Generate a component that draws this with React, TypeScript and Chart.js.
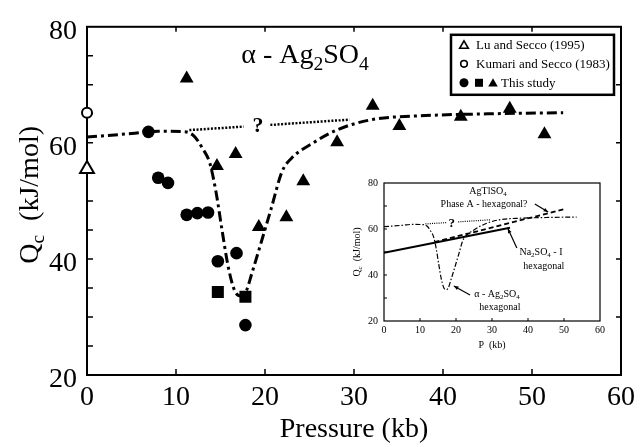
import React, { useEffect, useRef } from "react";
import { Chart, registerables } from "chart.js";
Chart.register(...registerables);

const SERIF = "'Liberation Serif', 'Times New Roman', serif";

// ---------- main chart data ----------
const luSeccoP = [0];
const luSeccoQ = [55.5];
const kumariP = [0];
const kumariQ = [65.2];
const circleP = [6.9, 8.0, 9.1, 11.2, 12.4, 13.6, 14.7, 16.8, 17.8];
const circleQ = [61.9, 54.0, 53.1, 47.6, 47.9, 48.0, 39.6, 41.0, 28.6];
const squareP = [14.7, 17.8];
const squareQ = [34.3, 33.5];
const triangleP = [11.2, 14.6, 16.7, 19.3, 22.4, 24.3, 28.1, 32.1, 35.1, 42.0, 47.5, 51.4];
const triangleQ = [71.1, 56.0, 58.1, 45.5, 47.2, 53.4, 60.1, 66.4, 62.9, 64.5, 65.9, 61.5];
const fitP = [0, 5, 8, 11, 12, 13, 13.8, 14.5, 15.2, 15.9, 16.6, 17.3, 17.9, 18.5, 19.6, 20.7, 21.9, 23, 25.2, 28.2, 32, 38, 45, 53.5];
const fitQ = [61, 61.6, 62, 61.9, 61.2, 59, 56.5, 51.5, 44.7, 38.4, 34.5, 33.6, 34.5, 37.4, 43, 48.7, 55, 57.4, 59.8, 62.3, 64, 64.7, 65, 65.2];
const dottedP = [11.5, 17.6, 19.2, 20.6, 29.5];
const dottedQ = [62.2, 62.8, null, 63.1, 64.0];
const xTicks = [0, 10, 20, 30, 40, 50, 60];
const yTicks = [20, 40, 60, 80];
const yTickMarks = [25, 30, 35, 40, 45, 50, 55, 60, 65, 70, 75];
const xTickMarks = [10, 20, 30, 40, 50];

// ---------- inset data ----------
const na2so4P = [0, 35];
const na2so4Q = [49.7, 60.5];
const agtlP = [14, 50];
const agtlQ = [54.3, 68.6];
const insetXTickMarks = [10, 20, 30, 40, 50];
const insetYTickMarks = [30, 40, 50, 60, 70];

type Part = { t: string; sub?: boolean };

function drawRich(ctx: CanvasRenderingContext2D, parts: Part[], x: number, y: number, size: number, align: "left" | "center", weight = "") {
  const sub = size * 0.7;
  let total = 0;
  const widths = parts.map((p) => {
    ctx.font = `${weight} ${p.sub ? sub : size}px ${SERIF}`;
    const w = ctx.measureText(p.t).width;
    total += w;
    return w;
  });
  let cx = align === "center" ? x - total / 2 : x;
  ctx.textAlign = "left";
  ctx.textBaseline = "alphabetic";
  parts.forEach((p, i) => {
    ctx.font = `${weight} ${p.sub ? sub : size}px ${SERIF}`;
    ctx.fillText(p.t, cx, p.sub ? y + size * 0.22 : y);
    cx += widths[i];
  });
}

function arrow(ctx: CanvasRenderingContext2D, x1: number, y1: number, x2: number, y2: number, head = 5) {
  ctx.beginPath();
  ctx.moveTo(x1, y1);
  ctx.lineTo(x2, y2);
  ctx.stroke();
  const a = Math.atan2(y2 - y1, x2 - x1);
  ctx.beginPath();
  ctx.moveTo(x2, y2);
  ctx.lineTo(x2 - head * Math.cos(a - 0.4), y2 - head * Math.sin(a - 0.4));
  ctx.lineTo(x2 - head * Math.cos(a + 0.4), y2 - head * Math.sin(a + 0.4));
  ctx.closePath();
  ctx.fill();
}

function tri(ctx: CanvasRenderingContext2D, x: number, y: number, r: number) {
  ctx.beginPath();
  ctx.moveTo(x, y - r);
  ctx.lineTo(x + r * 0.866, y + r * 0.5);
  ctx.lineTo(x - r * 0.866, y + r * 0.5);
  ctx.closePath();
}

const pts = (xs: number[], ys: (number | null)[]) => xs.map((x, i) => ({ x, y: ys[i] }));

const mainPlugin = {
  id: "mainDecor",
  beforeDatasetsDraw(chart: any) {
    const { ctx, chartArea: ca, scales } = chart;
    const xs = scales.x, ys = scales.y;
    ctx.save();
    ctx.strokeStyle = "#000";
    ctx.lineWidth = 2;
    ctx.strokeRect(ca.left, ca.top, ca.right - ca.left, ca.bottom - ca.top);
    ctx.lineWidth = 1.5;
    ctx.beginPath();
    for (const v of yTickMarks) {
      const py = ys.getPixelForValue(v);
      ctx.moveTo(ca.left, py);
      ctx.lineTo(ca.left + 6, py);
    }
    for (const v of [30, 40, 50, 60, 70]) {
      const py = ys.getPixelForValue(v);
      ctx.moveTo(ca.right, py);
      ctx.lineTo(ca.right - 5, py);
    }
    for (const v of xTickMarks) {
      const px = xs.getPixelForValue(v);
      ctx.moveTo(px, ca.bottom);
      ctx.lineTo(px, ca.bottom - 6);
      ctx.moveTo(px, ca.top);
      ctx.lineTo(px, ca.top + 5);
    }
    ctx.stroke();
    ctx.restore();
  },
  afterDatasetsDraw(chart: any) {
    const { ctx, chartArea: ca, scales } = chart;
    const xs = scales.x, ys = scales.y;
    ctx.save();
    ctx.fillStyle = "#000";
    // title
    drawRich(ctx, [{ t: "\u03b1 - Ag" }, { t: "2", sub: true }, { t: "SO" }, { t: "4", sub: true }], xs.getPixelForValue(24.5), ys.getPixelForValue(73.7), 28, "center");
    // question mark
    ctx.font = `bold 22px ${SERIF}`;
    ctx.textAlign = "center";
    ctx.textBaseline = "middle";
    ctx.fillText("?", xs.getPixelForValue(19.2), ys.getPixelForValue(62.9));
    // y axis title
    ctx.save();
    ctx.translate(38, (ca.top + ca.bottom) / 2 + 0 - 6);
    ctx.rotate(-Math.PI / 2);
    drawRich(ctx, [{ t: "Q" }, { t: "c", sub: true }, { t: "  (kJ/mol)" }], 0, 0, 28, "center");
    ctx.restore();
    // legend
    const bl = ca.right - 170, bt = ca.top + 8, bw = 163, bh = 60;
    ctx.fillStyle = "#fff";
    ctx.fillRect(bl, bt, bw, bh);
    ctx.strokeStyle = "#000";
    ctx.lineWidth = 2.5;
    ctx.strokeRect(bl, bt, bw, bh);
    ctx.fillStyle = "#000";
    const r1 = bt + 10, r2 = bt + 29, r3 = bt + 48;
    ctx.lineWidth = 1.6;
    tri(ctx, bl + 13, r1 + 1, 5);
    ctx.stroke();
    ctx.beginPath();
    ctx.arc(bl + 13, r2, 3.3, 0, Math.PI * 2);
    ctx.stroke();
    ctx.beginPath();
    ctx.arc(bl + 13, r3, 4.5, 0, Math.PI * 2);
    ctx.fill();
    ctx.fillRect(bl + 24, r3 - 4, 8, 8);
    tri(ctx, bl + 42, r3 + 1, 5.5);
    ctx.fill();
    ctx.font = `13px ${SERIF}`;
    ctx.textAlign = "left";
    ctx.textBaseline = "middle";
    ctx.fillText("Lu and Secco (1995)", bl + 25, r1 + 1);
    ctx.fillText("Kumari and Secco (1983)", bl + 25, r2 + 1);
    ctx.fillText("This study", bl + 50, r3 + 1);
    ctx.restore();
  },
};

const insetPlugin = {
  id: "insetDecor",
  beforeDatasetsDraw(chart: any) {
    const { ctx, chartArea: ca, scales } = chart;
    const xs = scales.x, ys = scales.y;
    ctx.save();
    ctx.fillStyle = "#fff";
    ctx.strokeStyle = "#000";
    ctx.lineWidth = 1.2;
    ctx.strokeRect(ca.left, ca.top, ca.right - ca.left, ca.bottom - ca.top);
    ctx.lineWidth = 1;
    ctx.beginPath();
    for (const v of insetYTickMarks) {
      const py = ys.getPixelForValue(v);
      ctx.moveTo(ca.left, py);
      ctx.lineTo(ca.left + 3, py);
    }
    for (const v of insetXTickMarks) {
      const px = xs.getPixelForValue(v);
      ctx.moveTo(px, ca.bottom);
      ctx.lineTo(px, ca.bottom - 3);
    }
    ctx.stroke();
    ctx.restore();
  },
  afterDatasetsDraw(chart: any) {
    const { ctx, chartArea: ca, scales } = chart;
    const xs = scales.x, ys = scales.y;
    const X = (v: number) => xs.getPixelForValue(v);
    const Y = (v: number) => ys.getPixelForValue(v);
    ctx.save();
    ctx.fillStyle = "#000";
    ctx.strokeStyle = "#000";
    ctx.lineWidth = 1.2;
    drawRich(ctx, [{ t: "AgTlSO" }, { t: "4", sub: true }], X(28.9), Y(76.5) + 3, 10, "center");
    ctx.font = `10px ${SERIF}`;
    ctx.textAlign = "center";
    ctx.textBaseline = "middle";
    ctx.fillText("Phase A - hexagonal?", X(27.8), Y(70.9));
    arrow(ctx, X(41.9), Y(70.9), X(45.6), Y(67.4), 5);
    drawRich(ctx, [{ t: "Na" }, { t: "2", sub: true }, { t: "SO" }, { t: "4", sub: true }, { t: " - I" }], X(43.6), Y(50.0) + 3, 10, "center");
    ctx.font = `10px ${SERIF}`;
    ctx.textAlign = "center";
    ctx.textBaseline = "middle";
    ctx.fillText("hexagonal", X(44.4), Y(43.9));
    arrow(ctx, X(36.9), Y(51.7), X(34.4), Y(60.2), 5);
    drawRich(ctx, [{ t: "\u03b1 - Ag" }, { t: "2", sub: true }, { t: "SO" }, { t: "4", sub: true }], X(31.4), Y(31.7) + 3, 10, "center");
    ctx.font = `10px ${SERIF}`;
    ctx.textAlign = "center";
    ctx.textBaseline = "middle";
    ctx.fillText("hexagonal", X(32.2), Y(26.1));
    arrow(ctx, X(23.9), Y(31.3), X(19.4), Y(35.2), 5);
    ctx.font = `bold 13px ${SERIF}`;
    ctx.fillText("?", X(18.8), Y(62.2));
    // y title
    ctx.save();
    ctx.translate(ca.left - 24, (ca.top + ca.bottom) / 2);
    ctx.rotate(-Math.PI / 2);
    drawRich(ctx, [{ t: "Q" }, { t: "c", sub: true }, { t: "  (kJ/mol)" }], 0, 0, 10, "center");
    ctx.restore();
    ctx.restore();
  },
};

export default function App() {
  const mainRef = useRef<HTMLCanvasElement>(null);
  const insetRef = useRef<HTMLCanvasElement>(null);

  useEffect(() => {
    const line = (data: any, dash: number[], width: number, order = 2) => ({
      data,
      showLine: true,
      pointRadius: 0,
      borderColor: "#000",
      borderWidth: width,
      borderDash: dash,
      cubicInterpolationMode: "monotone",
      spanGaps: false,
      fill: false,
      order,
    });
    const main = new Chart(mainRef.current as HTMLCanvasElement, {
      type: "scatter",
      data: {
        datasets: [
          { data: pts(luSeccoP, luSeccoQ), pointStyle: "triangle", pointRadius: 8, backgroundColor: "#fff", borderColor: "#000", borderWidth: 2, clip: false, order: 0 },
          { data: pts(kumariP, kumariQ), pointStyle: "circle", pointRadius: 5, backgroundColor: "#fff", borderColor: "#000", borderWidth: 2, clip: false, order: 0 },
          { data: pts(circleP, circleQ), pointStyle: "circle", pointRadius: 6.3, backgroundColor: "#000", borderWidth: 0, order: 0 },
          { data: pts(squareP, squareQ), pointStyle: "rect", pointRadius: 8.5, backgroundColor: "#000", borderWidth: 0, order: 0 },
          { data: pts(triangleP, triangleQ), pointStyle: "triangle", pointRadius: 8, backgroundColor: "#000", borderWidth: 0, order: 0 },
          line(pts(fitP, fitQ), [10, 4, 3, 4], 3) as any,
          line(pts(dottedP, dottedQ), [2, 1.6], 2.5) as any,
        ],
      },
      options: {
        responsive: false,
        animation: false,
        events: [],
        layout: { padding: { left: 0, top: 23, right: 16, bottom: 0 } },
        plugins: { legend: { display: false }, tooltip: { enabled: false } },
        scales: {
          x: {
            type: "linear",
            min: 0,
            max: 60,
            afterFit: (s: any) => { s.height = 72; },
            afterBuildTicks: (s: any) => { s.ticks = xTicks.map((v) => ({ value: v })); },
            grid: { display: false, drawTicks: false },
            border: { display: false },
            ticks: { color: "#000", padding: 6, font: { family: SERIF, size: 28 }, maxRotation: 0 },
            title: { display: true, text: "Pressure (kb)", color: "#000", font: { family: SERIF, size: 28 }, padding: { top: 0, bottom: 1 } },
          },
          y: {
            type: "linear",
            min: 20,
            max: 80,
            afterFit: (s: any) => { s.width = 87; },
            afterBuildTicks: (s: any) => { s.ticks = yTicks.map((v) => ({ value: v })); },
            grid: { display: false, drawTicks: false },
            border: { display: false },
            ticks: { color: "#000", padding: 10, labelOffset: 5, font: { family: SERIF, size: 28 } },
          },
        },
      },
      plugins: [mainPlugin],
    } as any);

    const inset = new Chart(insetRef.current as HTMLCanvasElement, {
      type: "scatter",
      data: {
        datasets: [
          line(pts(na2so4P, na2so4Q), [], 2, 1) as any,
          line(pts(agtlP, agtlQ), [5, 3], 1.8, 1) as any,
          line(pts(fitP, fitQ), [5, 2, 1.5, 2], 1.2, 2) as any,
          line(pts(dottedP, dottedQ), [1, 1.2], 1.2, 2) as any,
        ],
      },
      options: {
        responsive: false,
        animation: false,
        events: [],
        layout: { padding: { left: 0, top: 13, right: 20, bottom: 0 } },
        plugins: { legend: { display: false }, tooltip: { enabled: false } },
        scales: {
          x: {
            type: "linear",
            min: 0,
            max: 60,
            afterFit: (s: any) => { s.height = 39; },
            afterBuildTicks: (s: any) => { s.ticks = xTicks.map((v) => ({ value: v })); },
            grid: { display: false, drawTicks: false },
            border: { display: false },
            ticks: { color: "#000", padding: 3, font: { family: SERIF, size: 10 }, maxRotation: 0 },
            title: { display: true, text: "P  (kb)", color: "#000", font: { family: SERIF, size: 10 }, padding: { top: 0, bottom: 9 } },
          },
          y: {
            type: "linear",
            min: 20,
            max: 80,
            afterFit: (s: any) => { s.width = 54; },
            afterBuildTicks: (s: any) => { s.ticks = yTicks.map((v) => ({ value: v })); },
            grid: { display: false, drawTicks: false },
            border: { display: false },
            ticks: { color: "#000", padding: 6, font: { family: SERIF, size: 10 } },
          },
        },
      },
      plugins: [insetPlugin],
    } as any);

    return () => {
      main.destroy();
      inset.destroy();
    };
  }, []);

  return (
    <div style={{ position: "fixed", left: 0, top: 0, width: 641, height: 447, background: "#fff" }}>
      <canvas ref={mainRef} width={641} height={447} style={{ position: "absolute", left: 0, top: 0 }} />
      <canvas ref={insetRef} width={290} height={190} style={{ position: "absolute", left: 330, top: 170 }} />
    </div>
  );
}
